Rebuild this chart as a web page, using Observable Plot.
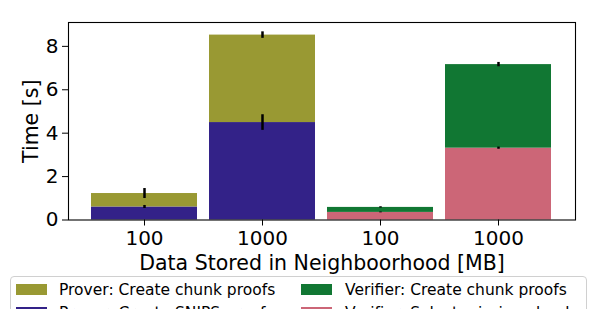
<!DOCTYPE html>
<html>
<head>
<meta charset="utf-8">
<script src="https://cdn.jsdelivr.net/npm/d3@7"></script>
<script src="https://cdn.jsdelivr.net/npm/@observablehq/plot@0.6"></script>
<style>
  html, body { margin: 0; padding: 0; background: #fff; }
  #wrap { position: relative; width: 598px; height: 309px; overflow: hidden; font-family: "DejaVu Sans", sans-serif; }
  #chart svg text { font-family: "DejaVu Sans", sans-serif; }
  #legend { position: absolute; left: 10px; top: 276px; width: 577px; height: 60px; border: 1px solid #d0d0d0; border-radius: 4px; background: #fff; box-sizing: border-box; }
  .sw { position: absolute; width: 31px; height: 11px; }
  .lt { position: absolute; font-size: 15.5px; line-height: 16px; white-space: nowrap; color: #000; }
</style>
</head>
<body>
<div id="wrap"><div id="chart"></div><div id="legend"></div></div>
<script>
const categories = ["100", "1000", "100", "1000"];
const bottomSeries = ["Prover: Create SNIPS proof", "Prover: Create SNIPS proof", "Verifier: Select missing chunks", "Verifier: Select missing chunks"];
const topSeries = ["Prover: Create chunk proofs", "Prover: Create chunk proofs", "Verifier: Create chunk proofs", "Verifier: Create chunk proofs"];
const bottomValues = [0.60, 4.49, 0.35, 3.31];
const topValues = [0.62, 4.03, 0.23, 3.85];
const bottomErr = [0.07, 0.36, 0.02, 0.05];
const topErr = [0.23, 0.15, 0.03, 0.10];
const legendLabels = ["Prover: Create chunk proofs", "Prover: Create SNIPS proof", "Verifier: Create chunk proofs", "Verifier: Select missing chunks"];
const legendColors = ["#999933", "#332288", "#117733", "#CC6677"];
const yTicks = [0, 2, 4, 6, 8];
const xLabel = "Data Stored in Neighboorhood [MB]";
const yLabel = "Time [s]";

const rows = [];
categories.forEach((c, i) => {
  rows.push({i, series: bottomSeries[i], value: bottomValues[i]});
  rows.push({i, series: topSeries[i], value: topValues[i]});
});
const errs = [];
categories.forEach((c, i) => {
  const b = bottomValues[i], t = bottomValues[i] + topValues[i];
  errs.push({i, lo: b - bottomErr[i], hi: b + bottomErr[i]});
  errs.push({i, lo: t - topErr[i], hi: t + topErr[i]});
});

const FS = 20;
const LS = 20.5;
const plot = Plot.plot({
  width: 598,
  height: 309,
  marginLeft: 68,
  marginRight: 23,
  marginTop: 22,
  marginBottom: 89.5,
  style: {fontFamily: "DejaVu Sans, sans-serif", fontSize: FS + "px", color: "#000", background: "transparent"},
  x: {type: "band", domain: [0, 1, 2, 3], paddingInner: 0.1, paddingOuter: 0.195},
  y: {domain: [0, 9.1]},
  color: {domain: legendLabels, range: legendColors},
  marks: [
    Plot.barY(rows, {x: "i", y: "value", fill: "series", inset: 0}),
    Plot.ruleX(errs, {x: "i", y1: "lo", y2: "hi", stroke: "#000", strokeWidth: 2.5}),
    Plot.frame({stroke: "#000", strokeWidth: 1.1}),
    Plot.axisX({tickFormat: i => categories[i], tickSize: 6, tickPadding: 5, fontSize: FS, label: null}),
    Plot.axisY({ticks: yTicks, tickSize: 6, tickPadding: 4, fontSize: FS, label: null}),
    Plot.text([xLabel], {frameAnchor: "bottom", text: d => d, dy: 43, lineAnchor: "middle", fontSize: LS, fill: "#000"}),
    Plot.text([yLabel], {frameAnchor: "left", text: d => d, dx: -37, rotate: -90, textAnchor: "middle", lineAnchor: "middle", fontSize: LS, fill: "#000"})
  ]
});
document.getElementById("chart").appendChild(plot);

const leg = document.getElementById("legend");
legendLabels.forEach((lab, k) => {
  const c = Math.floor(k / 2), r = k % 2;
  const sw = document.createElement("div");
  sw.className = "sw";
  sw.style.background = legendColors[k];
  sw.style.left = (5 + c * 285) + "px";
  sw.style.top = (7.3 + r * 22.7) + "px";
  leg.appendChild(sw);
  const t = document.createElement("div");
  t.className = "lt";
  t.textContent = lab;
  t.style.left = (48 + c * 286) + "px";
  t.style.top = (5 + r * 22.7) + "px";
  leg.appendChild(t);
});
</script>
</body>
</html>
